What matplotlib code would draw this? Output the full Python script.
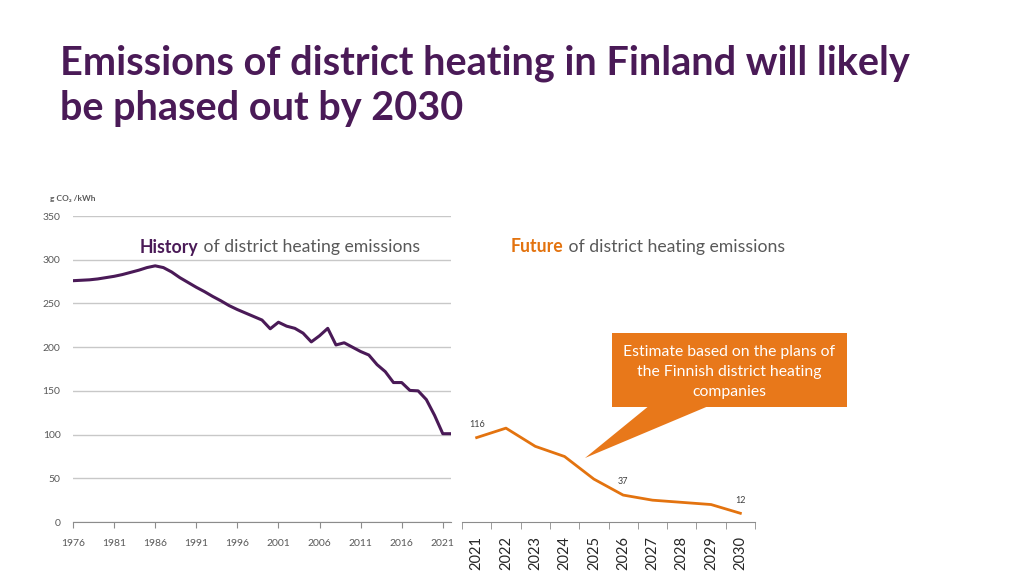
import matplotlib.pyplot as plt
import numpy as np
from matplotlib.patches import Polygon, Rectangle

plt.rcParams['font.family'] = ['Lato', 'DejaVu Sans']

# data
years_hist = list(range(1976, 2023))
emis_hist = [276, 276.5, 277, 278, 279.5, 281, 283, 285.5, 288, 291,
             293, 291, 286, 279.5, 274, 268.5, 263.5, 258, 253, 247.5,
             243, 239, 235, 231, 221, 228.5, 224, 221.5, 216, 206,
             213, 221.5, 202.5, 205, 200, 195, 191, 180, 172, 159.5,
             159.5, 150.5, 150, 140, 122, 101, 101]
hist_ticks = list(range(1976, 2022, 5))

years_future = ['2021', '2022', '2023', '2024', '2025',
                '2026', '2027', '2028', '2029', '2030']
emis_future = [116, 129, 104, 90, 59, 37, 30, 27, 24, 12]
labelled = {0: '116', 5: '37', 9: '12'}

purple = '#4A1A57'
orange = '#E3730F'
callout_col = '#E8781A'
grey_txt = '#595959'
W, H = 1024, 576


def px(x, y):
    # pixel position (from top left) -> figure fraction
    return (x / W, 1 - y / H)


fig = plt.figure(figsize=(10.24, 5.76), dpi=100)

# title
fig.text(*px(60, 75), 'Emissions of district heating in Finland will likely',
         fontsize=28.5, fontweight='bold', color=purple, va='baseline')
fig.text(*px(60, 120), 'be phased out by 2030',
         fontsize=28.5, fontweight='bold', color=purple, va='baseline')

# ---- history chart
ax1 = fig.add_axes([73 / W, 1 - 522 / H, (451 - 73) / W, (522 - 216) / H])
ax1.plot(years_hist, emis_hist, color=purple, lw=2.2, solid_capstyle='round',
         solid_joinstyle='round')
ax1.set_xlim(1976, 2022)
ax1.set_ylim(0, 350)
ax1.set_yticks(np.arange(0, 351, 50))
ax1.set_xticks(hist_ticks)
ax1.grid(axis='y', color='#C8C8C8', lw=1)
ax1.set_axisbelow(True)
for s in ['left', 'right', 'top']:
    ax1.spines[s].set_visible(False)
ax1.spines['bottom'].set_color('#8C8C8C')
ax1.tick_params(axis='y', length=0, pad=9, labelsize=7.5, labelcolor=grey_txt)
ax1.tick_params(axis='x', length=4, color='#8C8C8C', pad=8, labelsize=7.5,
                labelcolor=grey_txt)
fig.text(*px(50, 198), 'g CO₂ /kWh', fontsize=6, fontweight='bold',
         color=grey_txt, va='center')

# ---- future chart
ax2 = fig.add_axes([462 / W, 1 - 522 / H, (755 - 462) / W, 160 * 0.7276 / H])
xs = np.arange(len(years_future))
ax2.plot(xs, emis_future, color=orange, lw=2)
ax2.set_xlim(-0.5, 9.5)
ax2.set_ylim(0, 160)
ax2.set_yticks([])
ax2.set_xticks(xs)
ax2.set_xticklabels(years_future, rotation=90)
ax2.set_xticks(np.arange(-0.5, 10, 1), minor=True)
for s in ['left', 'right', 'top']:
    ax2.spines[s].set_visible(False)
ax2.spines['bottom'].set_color('#8C8C8C')
ax2.patch.set_alpha(0)
ax2.tick_params(axis='x', which='major', length=0, pad=10, labelsize=10.5,
                labelcolor='#262626')
ax2.tick_params(axis='x', which='minor', length=5, color='#8C8C8C')
for i, lab in labelled.items():
    ax2.annotate(lab, (xs[i], emis_future[i]), textcoords='offset points',
                 xytext=(0, 9.5), ha='center', va='center', fontsize=6.5,
                 color='#404040')

# headers: bold word followed by plain text
t1 = fig.text(*px(140, 247), 'History', fontsize=12.7, fontweight='bold',
              color=purple, va='center')
plt.annotate(' of district heating emissions', xy=(1, 0.5), xycoords=t1,
             va='center', ha='left', fontsize=12.7, color=grey_txt)
t2 = fig.text(*px(511, 247), 'Future', fontsize=12.7, fontweight='bold',
              color=orange, va='center')
plt.annotate(' of district heating emissions', xy=(1, 0.5), xycoords=t2,
             va='center', ha='left', fontsize=12.7, color=grey_txt)

# callout
fig.patches.append(Polygon([px(650, 405), px(711, 405), px(585, 458)],
                           closed=True, transform=fig.transFigure,
                           facecolor=callout_col, edgecolor='none'))
x0, y0 = px(612, 407)
x1, y1 = px(847, 333)
fig.patches.append(Rectangle((x0, y0), x1 - x0, y1 - y0,
                             transform=fig.transFigure,
                             facecolor=callout_col, edgecolor='none'))
fig.text(*px(729, 372), 'Estimate based on the plans of\n'
         'the Finnish district heating\ncompanies', ha='center', va='center',
         fontsize=11.3, color='white', linespacing=1.55)

fig.savefig('out.png', dpi=100)
